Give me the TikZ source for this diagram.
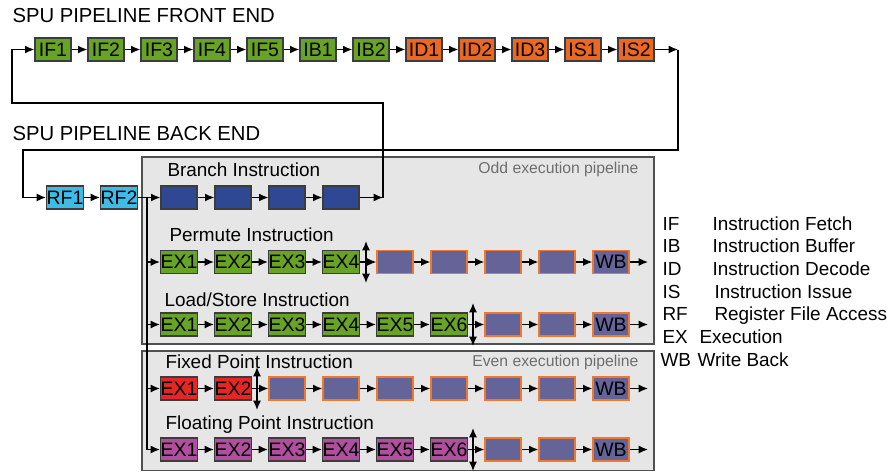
\documentclass[tikz,border=0pt]{standalone}
\usepackage{fontspec}
\setmainfont{Liberation Sans}
\usetikzlibrary{arrows.meta}

\tikzset{every picture/.style={line width=0.75pt}}
\tikzset{
	stage/.style={draw={rgb, 255:red, 60; green, 60; blue, 60}, line width=1pt, minimum width=27pt, minimum height=17.25pt, inner sep=0pt, font=\fontsize{14.6}{16}\selectfont},
	ifbox/.style={stage, fill={rgb, 255:red, 102; green, 163; blue, 38}},
	idbox/.style={stage, fill={rgb, 255:red, 234; green, 104; blue, 34}},
	rfbox/.style={stage, fill={rgb, 255:red, 62; green, 188; blue, 230}},
	brbox/.style={stage, fill={rgb, 255:red, 46; green, 72; blue, 148}},
	wbbox/.style={stage, draw={rgb, 255:red, 240; green, 120; blue, 44}, fill={rgb, 255:red, 100; green, 100; blue, 152}},
	fxbox/.style={stage, fill={rgb, 255:red, 230; green, 38; blue, 36}},
	flbox/.style={stage, fill={rgb, 255:red, 176; green, 78; blue, 160}},
	flow/.style={-{Latex[length=7pt,width=6pt]}, line width=1pt},
	fwd/.style={{Latex[length=7pt,width=6pt]}-{Latex[length=7pt,width=6pt]}, line width=1pt},
	pipe/.style={draw={rgb, 255:red, 80; green, 80; blue, 80}, fill={rgb, 255:red, 230; green, 230; blue, 230}, line width=1.2pt},
	lbl/.style={anchor=base west, inner sep=0pt, font=\fontsize{14.2}{16}\selectfont},
	title/.style={anchor=base west, inner sep=0pt, font=\fontsize{15.2}{18}\selectfont},
	pipelbl/.style={anchor=base east, inner sep=0pt, text={rgb, 255:red, 110; green, 110; blue, 110}, font=\fontsize{11.8}{14}\selectfont}}

\begin{document}
\begin{tikzpicture}[x=0.75pt,y=0.75pt,yscale=-1,xscale=1]
	\useasboundingbox (0,0) rectangle (887,472);

	%Shape: Rectangle odd pipeline
	\draw [pipe] (142,157) rectangle (654,344);
	%Shape: Rectangle even pipeline
	\draw [pipe] (142,351) rectangle (654,470.5);

	% Titles
	\node [title] (fetitle) at (12,22) {SPU PIPELINE FRONT END};
	\node [title] (betitle) at (12,140) {SPU PIPELINE BACK END};
	\node [pipelbl] (oddtxt) at (639,173) {Odd execution pipeline};
	\node [pipelbl] (eventxt) at (639,366) {Even execution pipeline};

	% Front end
	\node [ifbox] (if1) at (53,49.5) {IF1};
	\node [ifbox] (if2) at (106,49.5) {IF2};
	\node [ifbox] (if3) at (159,49.5) {IF3};
	\node [ifbox] (if4) at (212,49.5) {IF4};
	\node [ifbox] (if5) at (265,49.5) {IF5};
	\node [ifbox] (ib1) at (318,49.5) {IB1};
	\node [ifbox] (ib2) at (371,49.5) {IB2};
	\node [idbox] (id1) at (424,49.5) {ID1};
	\node [idbox] (id2) at (477,49.5) {ID2};
	\node [idbox] (id3) at (530,49.5) {ID3};
	\node [idbox] (is1) at (583,49.5) {IS1};
	\node [idbox] (is2) at (636,49.5) {IS2};
	\coordinate (feout) at (678,49.5);
	\coordinate (feturn) at (23,150);

	% Back end
	\node [rfbox] (rf1) at (65,197.5) {RF1};
	\node [rfbox] (rf2) at (119,197.5) {RF2};
	\coordinate (bus) at (147,197.5);

	% Branch Instruction
	\node [lbl] (brtxt) at (167,176) {Branch Instruction};
	\node [brbox] (br1) at (179,197.5) {};
	\node [brbox] (br2) at (233,197.5) {};
	\node [brbox] (br3) at (287,197.5) {};
	\node [brbox] (br4) at (341,197.5) {};
	\coordinate (brout) at (383,197.5);
	\coordinate (brturn) at (12,103);

	% Permute Instruction
	\node [lbl] (pmtxt) at (169,241) {Permute Instruction};
	\node [ifbox] (pm1) at (179,262) {EX1};
	\node [ifbox] (pm2) at (233,262) {EX2};
	\node [ifbox] (pm3) at (287,262) {EX3};
	\node [ifbox] (pm4) at (341,262) {EX4};
	\node [wbbox] (pm5) at (395,262) {};
	\node [wbbox] (pm6) at (449,262) {};
	\node [wbbox] (pm7) at (503,262) {};
	\node [wbbox] (pm8) at (557,262) {};
	\node [wbbox] (pmwb) at (611,262) {WB};
	\coordinate (pmout) at (648,262);
	\coordinate (pmtop) at (366,241);
	\coordinate (pmbot) at (366,283);

	% Load/Store Instruction
	\node [lbl] (lstxt) at (164,306) {Load/Store Instruction};
	\node [ifbox] (ls1) at (179,324.5) {EX1};
	\node [ifbox] (ls2) at (233,324.5) {EX2};
	\node [ifbox] (ls3) at (287,324.5) {EX3};
	\node [ifbox] (ls4) at (341,324.5) {EX4};
	\node [ifbox] (ls5) at (395,324.5) {EX5};
	\node [ifbox] (ls6) at (449,324.5) {EX6};
	\node [wbbox] (ls7) at (503,324.5) {};
	\node [wbbox] (ls8) at (557,324.5) {};
	\node [wbbox] (lswb) at (611,324.5) {WB};
	\coordinate (lsout) at (648,324.5);
	\coordinate (lstop) at (473,303);
	\coordinate (lsbot) at (473,346);

	% Fixed Point Instruction
	\node [lbl] (fxtxt) at (165,368) {Fixed Point Instruction};
	\node [fxbox] (fx1) at (179,388.5) {EX1};
	\node [fxbox] (fx2) at (233,388.5) {EX2};
	\node [wbbox] (fx3) at (287,388.5) {};
	\node [wbbox] (fx4) at (341,388.5) {};
	\node [wbbox] (fx5) at (395,388.5) {};
	\node [wbbox] (fx6) at (449,388.5) {};
	\node [wbbox] (fx7) at (503,388.5) {};
	\node [wbbox] (fx8) at (557,388.5) {};
	\node [wbbox] (fxwb) at (611,388.5) {WB};
	\coordinate (fxout) at (648,388.5);
	\coordinate (fxtop) at (257,367);
	\coordinate (fxbot) at (257,410);

	% Floating Point Instruction
	\node [lbl] (fltxt) at (165,429) {Floating Point Instruction};
	\node [flbox] (fl1) at (179,449.5) {EX1};
	\node [flbox] (fl2) at (233,449.5) {EX2};
	\node [flbox] (fl3) at (287,449.5) {EX3};
	\node [flbox] (fl4) at (341,449.5) {EX4};
	\node [flbox] (fl5) at (395,449.5) {EX5};
	\node [flbox] (fl6) at (449,449.5) {EX6};
	\node [wbbox] (fl7) at (503,449.5) {};
	\node [wbbox] (fl8) at (557,449.5) {};
	\node [wbbox] (flwb) at (611,449.5) {WB};
	\coordinate (flout) at (648,449.5);
	\coordinate (fltop) at (473,428);
	\coordinate (flbot) at (473,471);

	% Front end flow
	\draw [flow] (if1) -- (if2);
	\draw [flow] (if2) -- (if3);
	\draw [flow] (if3) -- (if4);
	\draw [flow] (if4) -- (if5);
	\draw [flow] (if5) -- (ib1);
	\draw [flow] (ib1) -- (ib2);
	\draw [flow] (ib2) -- (id1);
	\draw [flow] (id1) -- (id2);
	\draw [flow] (id2) -- (id3);
	\draw [flow] (id3) -- (is1);
	\draw [flow] (is1) -- (is2);
	\draw [flow] (is2) -- (feout);
	\draw [flow] (feout) |- (feturn) |- (rf1);
	\draw [flow] (rf1) -- (rf2);

	% Issue bus
	\draw [line width=1pt] (rf2) -- (bus);
	\draw [flow] (bus) -- (br1);
	\draw [flow] (bus) |- (fl1);
	\draw [flow] (bus |- pm1) -- (pm1);
	\draw [flow] (bus |- ls1) -- (ls1);
	\draw [flow] (bus |- fx1) -- (fx1);

	% Branch flow and loop back
	\draw [flow] (br1) -- (br2);
	\draw [flow] (br2) -- (br3);
	\draw [flow] (br3) -- (br4);
	\draw [flow] (br4) -- (brout);
	\draw [flow] (brout) |- (brturn) |- (if1);

	% Permute flow
	\draw [flow] (pm1) -- (pm2);
	\draw [flow] (pm2) -- (pm3);
	\draw [flow] (pm3) -- (pm4);
	\draw [flow] (pm4) -- (pm5);
	\draw [flow] (pm5) -- (pm6);
	\draw [flow] (pm6) -- (pm7);
	\draw [flow] (pm7) -- (pm8);
	\draw [flow] (pm8) -- (pmwb);
	\draw [flow] (pmwb) -- (pmout);
	\draw [fwd] (pmtop) -- (pmbot);

	% Load/Store flow
	\draw [flow] (ls1) -- (ls2);
	\draw [flow] (ls2) -- (ls3);
	\draw [flow] (ls3) -- (ls4);
	\draw [flow] (ls4) -- (ls5);
	\draw [flow] (ls5) -- (ls6);
	\draw [flow] (ls6) -- (ls7);
	\draw [flow] (ls7) -- (ls8);
	\draw [flow] (ls8) -- (lswb);
	\draw [flow] (lswb) -- (lsout);
	\draw [fwd] (lstop) -- (lsbot);

	% Fixed point flow
	\draw [flow] (fx1) -- (fx2);
	\draw [flow] (fx2) -- (fx3);
	\draw [flow] (fx3) -- (fx4);
	\draw [flow] (fx4) -- (fx5);
	\draw [flow] (fx5) -- (fx6);
	\draw [flow] (fx6) -- (fx7);
	\draw [flow] (fx7) -- (fx8);
	\draw [flow] (fx8) -- (fxwb);
	\draw [flow] (fxwb) -- (fxout);
	\draw [fwd] (fxtop) -- (fxbot);

	% Floating point flow
	\draw [flow] (fl1) -- (fl2);
	\draw [flow] (fl2) -- (fl3);
	\draw [flow] (fl3) -- (fl4);
	\draw [flow] (fl4) -- (fl5);
	\draw [flow] (fl5) -- (fl6);
	\draw [flow] (fl6) -- (fl7);
	\draw [flow] (fl7) -- (fl8);
	\draw [flow] (fl8) -- (flwb);
	\draw [flow] (flwb) -- (flout);
	\draw [fwd] (fltop) -- (flbot);

	% Legend
	\node [lbl] (lgif) at (662,230) {IF};
	\node [lbl] (lgifd) at (712,230) {Instruction Fetch};
	\node [lbl] (lgib) at (662,252.7) {IB};
	\node [lbl] (lgibd) at (712,252.7) {Instruction Buffer};
	\node [lbl] (lgid) at (662,275.3) {ID};
	\node [lbl] (lgidd) at (712,275.3) {Instruction Decode};
	\node [lbl] (lgis) at (662,298) {IS};
	\node [lbl] (lgisd) at (714,298) {Instruction Issue};
	\node [lbl] (lgrf) at (662,320.7) {RF};
	\node [lbl] (lgrfd) at (714,320.7) {Register File Access};
	\node [lbl] (lgex) at (662,343.3) {EX};
	\node [lbl] (lgexd) at (699,343.3) {Execution};
	\node [lbl] (lgwb) at (660,366) {WB};
	\node [lbl] (lgwbd) at (697,366) {Write Back};

\end{tikzpicture}
\end{document}
